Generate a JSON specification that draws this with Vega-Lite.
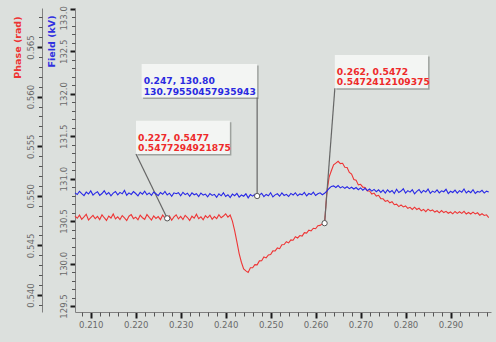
{
"$schema": "https://vega.github.io/schema/vega-lite/v6.json",
"width": 416, "height": 304,
"autosize": {"type": "none"},
"padding": {"left": 75, "top": 8, "right": 5, "bottom": 30},
"background": "#dce0dd",
"config": {"view": {"stroke": null}, "axis": {"grid": false, "labelFont": "Liberation Sans Narrow, DejaVu Sans Condensed, Liberation Sans, sans-serif", "labelFontSize": 9.5, "labelColor": "#6a6a6a", "domainColor": "#808080", "tickColor": "#1a1a1a"}},
"datasets": {
"series": [
{"t":0.2065,"phase":0.54796,"field":130.833},{"t":0.2070,"phase":0.54774,"field":130.813},{"t":0.2075,"phase":0.54805,"field":130.851},{"t":0.2080,"phase":0.54763,"field":130.824},{"t":0.2085,"phase":0.54787,"field":130.800},{"t":0.2090,"phase":0.54814,"field":130.841},{"t":0.2095,"phase":0.54756,"field":130.819},{"t":0.2100,"phase":0.54781,"field":130.856},{"t":0.2105,"phase":0.54803,"field":130.806},{"t":0.2110,"phase":0.54769,"field":130.830},
{"t":0.2115,"phase":0.54792,"field":130.845},{"t":0.2120,"phase":0.54760,"field":130.803},{"t":0.2125,"phase":0.54808,"field":130.825},{"t":0.2130,"phase":0.54779,"field":130.857},{"t":0.2135,"phase":0.54752,"field":130.814},{"t":0.2140,"phase":0.54796,"field":130.837},{"t":0.2145,"phase":0.54776,"field":130.797},{"t":0.2150,"phase":0.54817,"field":130.829},{"t":0.2155,"phase":0.54767,"field":130.849},{"t":0.2160,"phase":0.54788,"field":130.809},
{"t":0.2165,"phase":0.54761,"field":130.838},{"t":0.2170,"phase":0.54801,"field":130.821},{"t":0.2175,"phase":0.54778,"field":130.861},{"t":0.2180,"phase":0.54751,"field":130.805},{"t":0.2185,"phase":0.54794,"field":130.832},{"t":0.2190,"phase":0.54810,"field":130.814},{"t":0.2195,"phase":0.54770,"field":130.848},{"t":0.2200,"phase":0.54785,"field":130.825},{"t":0.2205,"phase":0.54758,"field":130.798},{"t":0.2210,"phase":0.54805,"field":130.840},
{"t":0.2215,"phase":0.54779,"field":130.817},{"t":0.2220,"phase":0.54763,"field":130.853},{"t":0.2225,"phase":0.54812,"field":130.811},{"t":0.2230,"phase":0.54783,"field":130.832},{"t":0.2235,"phase":0.54756,"field":130.803},{"t":0.2240,"phase":0.54797,"field":130.843},{"t":0.2245,"phase":0.54772,"field":130.822},{"t":0.2250,"phase":0.54790,"field":130.800},{"t":0.2255,"phase":0.54760,"field":130.837},{"t":0.2260,"phase":0.54806,"field":130.816},
{"t":0.2265,"phase":0.54776,"field":130.849},{"t":0.2270,"phase":0.54773,"field":130.808},{"t":0.2275,"phase":0.54796,"field":130.829},{"t":0.2280,"phase":0.54754,"field":130.793},{"t":0.2285,"phase":0.54787,"field":130.833},{"t":0.2290,"phase":0.54808,"field":130.822},{"t":0.2295,"phase":0.54767,"field":130.834},{"t":0.2300,"phase":0.54792,"field":130.798},{"t":0.2305,"phase":0.54761,"field":130.839},{"t":0.2310,"phase":0.54803,"field":130.812},
{"t":0.2315,"phase":0.54781,"field":130.828},{"t":0.2320,"phase":0.54752,"field":130.793},{"t":0.2325,"phase":0.54794,"field":130.833},{"t":0.2330,"phase":0.54774,"field":130.810},{"t":0.2335,"phase":0.54814,"field":130.823},{"t":0.2340,"phase":0.54769,"field":130.788},{"t":0.2345,"phase":0.54788,"field":130.830},{"t":0.2350,"phase":0.54758,"field":130.806},{"t":0.2355,"phase":0.54799,"field":130.818},{"t":0.2360,"phase":0.54778,"field":130.785},
{"t":0.2365,"phase":0.54805,"field":130.825},{"t":0.2370,"phase":0.54763,"field":130.802},{"t":0.2375,"phase":0.54790,"field":130.815},{"t":0.2380,"phase":0.54770,"field":130.780},{"t":0.2385,"phase":0.54810,"field":130.822},{"t":0.2390,"phase":0.54779,"field":130.798},{"t":0.2395,"phase":0.54796,"field":130.833},{"t":0.2400,"phase":0.54819,"field":130.790},{"t":0.2405,"phase":0.54785,"field":130.810},{"t":0.2410,"phase":0.54806,"field":130.777},
{"t":0.2415,"phase":0.54745,"field":130.818},{"t":0.2420,"phase":0.54648,"field":130.799},{"t":0.2425,"phase":0.54535,"field":130.826},{"t":0.2430,"phase":0.54418,"field":130.782},{"t":0.2435,"phase":0.54330,"field":130.807},{"t":0.2440,"phase":0.54262,"field":130.793},{"t":0.2445,"phase":0.54243,"field":130.822},{"t":0.2450,"phase":0.54228,"field":130.774},{"t":0.2455,"phase":0.54274,"field":130.812},{"t":0.2460,"phase":0.54275,"field":130.794},
{"t":0.2465,"phase":0.54306,"field":130.817},{"t":0.2470,"phase":0.54304,"field":130.7955},{"t":0.2475,"phase":0.54344,"field":130.806},{"t":0.2480,"phase":0.54346,"field":130.828},{"t":0.2485,"phase":0.54383,"field":130.788},{"t":0.2490,"phase":0.54374,"field":130.814},{"t":0.2495,"phase":0.54403,"field":130.798},{"t":0.2500,"phase":0.54409,"field":130.834},{"t":0.2505,"phase":0.54445,"field":130.785},{"t":0.2510,"phase":0.54444,"field":130.809},
{"t":0.2515,"phase":0.54474,"field":130.822},{"t":0.2520,"phase":0.54467,"field":130.793},{"t":0.2525,"phase":0.54507,"field":130.831},{"t":0.2530,"phase":0.54509,"field":130.802},{"t":0.2535,"phase":0.54537,"field":130.815},{"t":0.2540,"phase":0.54525,"field":130.790},{"t":0.2545,"phase":0.54555,"field":130.826},{"t":0.2550,"phase":0.54552,"field":130.807},{"t":0.2555,"phase":0.54587,"field":130.834},{"t":0.2560,"phase":0.54575,"field":130.799},
{"t":0.2565,"phase":0.54599,"field":130.820},{"t":0.2570,"phase":0.54594,"field":130.810},{"t":0.2575,"phase":0.54629,"field":130.838},{"t":0.2580,"phase":0.54624,"field":130.796},{"t":0.2585,"phase":0.54654,"field":130.825},{"t":0.2590,"phase":0.54646,"field":130.812},{"t":0.2595,"phase":0.54673,"field":130.841},{"t":0.2600,"phase":0.54668,"field":130.802},{"t":0.2605,"phase":0.54699,"field":130.822},{"t":0.2610,"phase":0.54702,"field":130.833},
{"t":0.2615,"phase":0.54719,"field":130.810},{"t":0.2620,"phase":0.54724,"field":130.828},{"t":0.2625,"phase":0.55035,"field":130.852},{"t":0.2630,"phase":0.55188,"field":130.884},{"t":0.2635,"phase":0.55252,"field":130.908},{"t":0.2640,"phase":0.55312,"field":130.915},{"t":0.2645,"phase":0.55330,"field":130.896},{"t":0.2650,"phase":0.55348,"field":130.918},{"t":0.2655,"phase":0.55325,"field":130.891},{"t":0.2660,"phase":0.55328,"field":130.907},
{"t":0.2665,"phase":0.55288,"field":130.886},{"t":0.2670,"phase":0.55286,"field":130.904},{"t":0.2675,"phase":0.55236,"field":130.882},{"t":0.2680,"phase":0.55219,"field":130.899},{"t":0.2685,"phase":0.55165,"field":130.878},{"t":0.2690,"phase":0.55158,"field":130.895},{"t":0.2695,"phase":0.55110,"field":130.870},{"t":0.2700,"phase":0.55116,"field":130.891},{"t":0.2705,"phase":0.55087,"field":130.864},{"t":0.2710,"phase":0.55084,"field":130.886},
{"t":0.2715,"phase":0.55049,"field":130.859},{"t":0.2720,"phase":0.55049,"field":130.878},{"t":0.2725,"phase":0.55017,"field":130.853},{"t":0.2730,"phase":0.55027,"field":130.873},{"t":0.2735,"phase":0.54998,"field":130.846},{"t":0.2740,"phase":0.55005,"field":130.868},{"t":0.2745,"phase":0.54971,"field":130.838},{"t":0.2750,"phase":0.54970,"field":130.865},{"t":0.2755,"phase":0.54943,"field":130.830},{"t":0.2760,"phase":0.54953,"field":130.869},
{"t":0.2765,"phase":0.54929,"field":130.841},{"t":0.2770,"phase":0.54941,"field":130.861},{"t":0.2775,"phase":0.54910,"field":130.825},{"t":0.2780,"phase":0.54915,"field":130.875},{"t":0.2785,"phase":0.54891,"field":130.837},{"t":0.2790,"phase":0.54908,"field":130.854},{"t":0.2795,"phase":0.54888,"field":130.881},{"t":0.2800,"phase":0.54898,"field":130.830},{"t":0.2805,"phase":0.54874,"field":130.859},{"t":0.2810,"phase":0.54884,"field":130.841},
{"t":0.2815,"phase":0.54862,"field":130.869},{"t":0.2820,"phase":0.54885,"field":130.822},{"t":0.2825,"phase":0.54862,"field":130.851},{"t":0.2830,"phase":0.54874,"field":130.872},{"t":0.2835,"phase":0.54849,"field":130.833},{"t":0.2840,"phase":0.54863,"field":130.862},{"t":0.2845,"phase":0.54840,"field":130.843},{"t":0.2850,"phase":0.54865,"field":130.877},{"t":0.2855,"phase":0.54847,"field":130.827},{"t":0.2860,"phase":0.54858,"field":130.853},
{"t":0.2865,"phase":0.54836,"field":130.838},{"t":0.2870,"phase":0.54849,"field":130.867},{"t":0.2875,"phase":0.54828,"field":130.832},{"t":0.2880,"phase":0.54851,"field":130.857},{"t":0.2885,"phase":0.54831,"field":130.846},{"t":0.2890,"phase":0.54843,"field":130.875},{"t":0.2895,"phase":0.54824,"field":130.824},{"t":0.2900,"phase":0.54837,"field":130.851},{"t":0.2905,"phase":0.54818,"field":130.837},{"t":0.2910,"phase":0.54842,"field":130.865},
{"t":0.2915,"phase":0.54823,"field":130.829},{"t":0.2920,"phase":0.54839,"field":130.859},{"t":0.2925,"phase":0.54823,"field":130.841},{"t":0.2930,"phase":0.54843,"field":130.878},{"t":0.2935,"phase":0.54816,"field":130.832},{"t":0.2940,"phase":0.54832,"field":130.854},{"t":0.2945,"phase":0.54817,"field":130.835},{"t":0.2950,"phase":0.54835,"field":130.869},{"t":0.2955,"phase":0.54817,"field":130.825},{"t":0.2960,"phase":0.54829,"field":130.849},
{"t":0.2965,"phase":0.54804,"field":130.840},{"t":0.2970,"phase":0.54819,"field":130.862},{"t":0.2975,"phase":0.54802,"field":130.830},{"t":0.2980,"phase":0.54808,"field":130.853},{"t":0.2985,"phase":0.54780,"field":130.843}
],
"notes": [
{"s":"phase","t":0.227,"v":0.5477294921875,"bx1":0.22006,"bx2":0.24094,"by1":0.55757,"by2":0.55421,"cx":0.22006,"l1":"0.227, 0.5477","l2":"0.5477294921875"},
{"s":"phase","t":0.262,"v":0.5472412109375,"bx1":0.26428,"bx2":0.28501,"by1":0.56419,"by2":0.56084,"cx":0.26428,"l1":"0.262, 0.5472","l2":"0.5472412109375"},
{"s":"field","t":0.247,"v":130.79550457935943,"bx1":0.22132,"bx2":0.247,"by1":132.35,"by2":131.956,"cx":0.247,"l1":"0.247, 130.80","l2":"130.79550457935943"}
]
},
"layer": [
{
"layer": [
{"data":{"name":"series"},"mark":{"type":"line","color":"#ee3535","strokeWidth":1.1},
 "encoding":{
  "x":{"field":"t","type":"quantitative","scale":{"domain":[0.2065,0.299],"nice":false,"zero":false},
       "axis":{"orient":"bottom","values":[0.21,0.22,0.23,0.24,0.25,0.26,0.27,0.28,0.29],"format":".3f","tickSize":6,"tickWidth":2,"labelPadding":1,"title":null,"labelFlush":false,"labelOverlap":false}},
  "y":{"field":"phase","type":"quantitative","scale":{"domain":[0.538286,0.568931],"nice":false,"zero":false},
       "axis":{"orient":"left","offset":33,"values":[0.54,0.545,0.55,0.555,0.56,0.565],"format":".3f","tickSize":5,"tickWidth":2,"labelAngle":270,"labelAlign":"center","labelBaseline":"bottom","labelPadding":2,"labelFlush":false,"labelOverlap":false,
               "title":"Phase (rad)","titleColor":"#ee3333","titleFont":"DejaVu Sans","titleFontSize":9.5,"titleFontWeight":"bold","titleAnchor":"end","titleAlign":"right","titleY":8,"titlePadding":3}}}},
{"data":{"name":"notes"},"transform":[{"filter":"datum.s == 'phase'"}],
 "mark":{"type":"rect","fill":"#9ea29e","xOffset":1.5,"x2Offset":1.5,"yOffset":1.5,"y2Offset":1.5},
 "encoding":{"x":{"field":"bx1","type":"quantitative","scale":{"domain":[0.2065,0.299],"nice":false,"zero":false},"axis":null},"x2":{"field":"bx2"},
  "y":{"field":"by1","type":"quantitative","scale":{"domain":[0.538286,0.568931],"nice":false,"zero":false},"axis":null},"y2":{"field":"by2"}}},
{"data":{"name":"notes"},"transform":[{"filter":"datum.s == 'phase'"}],
 "mark":{"type":"rect","fill":"#f3f5f3"},
 "encoding":{"x":{"field":"bx1","type":"quantitative","scale":{"domain":[0.2065,0.299],"nice":false,"zero":false},"axis":null},"x2":{"field":"bx2"},
  "y":{"field":"by1","type":"quantitative","scale":{"domain":[0.538286,0.568931],"nice":false,"zero":false},"axis":null},"y2":{"field":"by2"}}},
{"data":{"name":"notes"},"transform":[{"filter":"datum.s == 'phase'"}],
 "mark":{"type":"rule","color":"#666666","strokeWidth":1.2},
 "encoding":{
  "x":{"field":"cx","type":"quantitative","scale":{"domain":[0.2065,0.299],"nice":false,"zero":false},
       "axis":{"orient":"bottom","values":[0.208,0.212,0.214,0.216,0.218,0.222,0.224,0.226,0.228,0.232,0.234,0.236,0.238,0.242,0.244,0.246,0.248,0.252,0.254,0.256,0.258,0.262,0.264,0.266,0.268,0.272,0.274,0.276,0.278,0.282,0.284,0.286,0.288,0.292,0.294,0.296,0.298],"labels":false,"domain":false,"tickSize":4,"tickWidth":1,"tickColor":"#555555","title":null}},
  "x2":{"field":"t"},
  "y":{"field":"by2","type":"quantitative","scale":{"domain":[0.538286,0.568931],"nice":false,"zero":false},
       "axis":{"orient":"left","offset":33,"values":[0.539,0.541,0.542,0.543,0.544,0.546,0.547,0.548,0.549,0.551,0.552,0.553,0.554,0.556,0.557,0.558,0.559,0.561,0.562,0.563,0.564,0.566,0.567,0.568],"labels":false,"domain":false,"tickSize":3.5,"tickWidth":1,"tickColor":"#555555","title":null}},
  "y2":{"field":"v"}}},
{"data":{"name":"notes"},"transform":[{"filter":"datum.s == 'phase'"}],
 "mark":{"type":"point","shape":"circle","filled":true,"fill":"#ffffff","stroke":"#555555","strokeWidth":1,"size":28,"opacity":1},
 "encoding":{"x":{"field":"t","type":"quantitative","scale":{"domain":[0.2065,0.299],"nice":false,"zero":false},"axis":null},
  "y":{"field":"v","type":"quantitative","scale":{"domain":[0.538286,0.568931],"nice":false,"zero":false},"axis":null}}},
{"data":{"name":"notes"},"transform":[{"filter":"datum.s == 'phase'"}],
 "mark":{"type":"text","align":"left","baseline":"alphabetic","dx":2,"dy":-13.4,"font":"DejaVu Sans","fontWeight":"bold","fontSize":9.2,"color":"#ee2a2a"},
 "encoding":{"x":{"field":"bx1","type":"quantitative","scale":{"domain":[0.2065,0.299],"nice":false,"zero":false},"axis":null},
  "y":{"field":"by2","type":"quantitative","scale":{"domain":[0.538286,0.568931],"nice":false,"zero":false},"axis":null},"text":{"field":"l1"}}},
{"data":{"name":"notes"},"transform":[{"filter":"datum.s == 'phase'"}],
 "mark":{"type":"text","align":"left","baseline":"alphabetic","dx":2,"dy":-2.8,"font":"DejaVu Sans","fontWeight":"bold","fontSize":9.2,"color":"#ee2a2a"},
 "encoding":{"x":{"field":"bx1","type":"quantitative","scale":{"domain":[0.2065,0.299],"nice":false,"zero":false},"axis":null},
  "y":{"field":"by2","type":"quantitative","scale":{"domain":[0.538286,0.568931],"nice":false,"zero":false},"axis":null},"text":{"field":"l2"}}}
],
"resolve":{"axis":{"x":"independent","y":"independent"}}
},
{
"layer": [
{"data":{"name":"series"},"mark":{"type":"line","color":"#2828e6","strokeWidth":1.1},
 "encoding":{
  "x":{"field":"t","type":"quantitative","scale":{"domain":[0.2065,0.299],"nice":false,"zero":false},"axis":null},
  "y":{"field":"field","type":"quantitative","scale":{"domain":[129.4293,133.01],"nice":false,"zero":false},
       "axis":{"orient":"left","offset":0,"values":[129.5,130,130.5,131,131.5,132,132.5,133],"format":".1f","tickSize":5,"tickWidth":2,"labelAngle":270,"labelAlign":"center","labelBaseline":"bottom","labelPadding":2,"labelFlush":false,"labelOverlap":false,
               "labelOffset":{"condition":{"test":"datum.value >= 132.9","value":9},"value":0},
               "title":"Field (kV)","titleColor":"#3030e0","titleFont":"DejaVu Sans","titleFontSize":9.5,"titleFontWeight":"bold","titleAnchor":"end","titleAlign":"right","titleY":7,"titlePadding":2}}}},
{"data":{"name":"notes"},"transform":[{"filter":"datum.s == 'field'"}],
 "mark":{"type":"rect","fill":"#9ea29e","xOffset":1.5,"x2Offset":1.5,"yOffset":1.5,"y2Offset":1.5},
 "encoding":{"x":{"field":"bx1","type":"quantitative","scale":{"domain":[0.2065,0.299],"nice":false,"zero":false},"axis":null},"x2":{"field":"bx2"},
  "y":{"field":"by1","type":"quantitative","scale":{"domain":[129.4293,133.01],"nice":false,"zero":false},"axis":null},"y2":{"field":"by2"}}},
{"data":{"name":"notes"},"transform":[{"filter":"datum.s == 'field'"}],
 "mark":{"type":"rect","fill":"#f3f5f3"},
 "encoding":{"x":{"field":"bx1","type":"quantitative","scale":{"domain":[0.2065,0.299],"nice":false,"zero":false},"axis":null},"x2":{"field":"bx2"},
  "y":{"field":"by1","type":"quantitative","scale":{"domain":[129.4293,133.01],"nice":false,"zero":false},"axis":null},"y2":{"field":"by2"}}},
{"data":{"name":"notes"},"transform":[{"filter":"datum.s == 'field'"}],
 "mark":{"type":"rule","color":"#666666","strokeWidth":1.2},
 "encoding":{
  "x":{"field":"cx","type":"quantitative","scale":{"domain":[0.2065,0.299],"nice":false,"zero":false},"axis":null},
  "x2":{"field":"t"},
  "y":{"field":"by2","type":"quantitative","scale":{"domain":[129.4293,133.01],"nice":false,"zero":false},
       "axis":{"orient":"left","offset":0,"values":[129.6,129.7,129.8,129.9,130.1,130.2,130.3,130.4,130.6,130.7,130.8,130.9,131.1,131.2,131.3,131.4,131.6,131.7,131.8,131.9,132.1,132.2,132.3,132.4,132.6,132.7,132.8,132.9],"labels":false,"domain":false,"tickSize":3.5,"tickWidth":1,"tickColor":"#555555","title":null}},
  "y2":{"field":"v"}}},
{"data":{"name":"notes"},"transform":[{"filter":"datum.s == 'field'"}],
 "mark":{"type":"point","shape":"circle","filled":true,"fill":"#ffffff","stroke":"#555555","strokeWidth":1,"size":28,"opacity":1},
 "encoding":{"x":{"field":"t","type":"quantitative","scale":{"domain":[0.2065,0.299],"nice":false,"zero":false},"axis":null},
  "y":{"field":"v","type":"quantitative","scale":{"domain":[129.4293,133.01],"nice":false,"zero":false},"axis":null}}},
{"data":{"name":"notes"},"transform":[{"filter":"datum.s == 'field'"}],
 "mark":{"type":"text","align":"left","baseline":"alphabetic","dx":2,"dy":-13.4,"font":"DejaVu Sans","fontWeight":"bold","fontSize":9.2,"color":"#2a2ae0"},
 "encoding":{"x":{"field":"bx1","type":"quantitative","scale":{"domain":[0.2065,0.299],"nice":false,"zero":false},"axis":null},
  "y":{"field":"by2","type":"quantitative","scale":{"domain":[129.4293,133.01],"nice":false,"zero":false},"axis":null},"text":{"field":"l1"}}},
{"data":{"name":"notes"},"transform":[{"filter":"datum.s == 'field'"}],
 "mark":{"type":"text","align":"left","baseline":"alphabetic","dx":2,"dy":-2.8,"font":"DejaVu Sans","fontWeight":"bold","fontSize":9.2,"color":"#2a2ae0"},
 "encoding":{"x":{"field":"bx1","type":"quantitative","scale":{"domain":[0.2065,0.299],"nice":false,"zero":false},"axis":null},
  "y":{"field":"by2","type":"quantitative","scale":{"domain":[129.4293,133.01],"nice":false,"zero":false},"axis":null},"text":{"field":"l2"}}}
],
"resolve":{"axis":{"y":"independent"}}
}
],
"resolve": {"scale": {"y": "independent"}, "axis": {"y": "independent"}}
}
